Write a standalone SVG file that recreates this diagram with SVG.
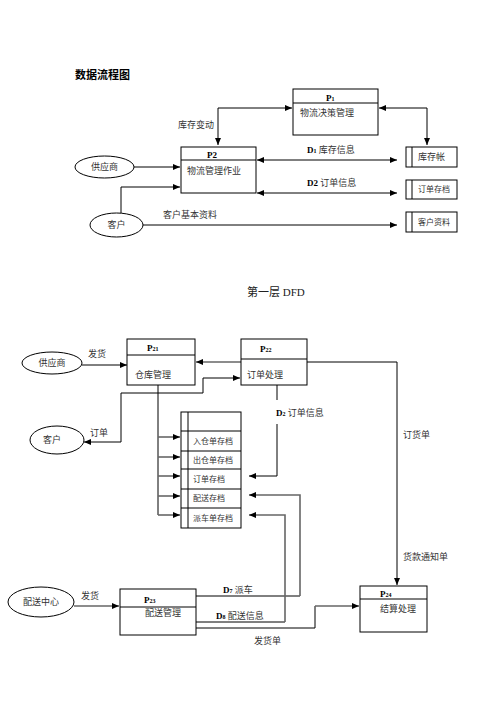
<svg xmlns="http://www.w3.org/2000/svg" width="496" height="702" viewBox="0 0 496 702">
<style>
.t{font-family:"Liberation Serif","Noto Sans CJK SC",serif;font-size:9px;fill:#333}
.b{font-family:"Liberation Serif","Noto Sans CJK SC",serif;font-size:9px;font-weight:bold;fill:#000}
.s{font-size:6px}
.box{fill:#fff;stroke:#000;stroke-width:1}
.ln{fill:none;stroke:#000;stroke-width:1}
.gl{fill:none;stroke:#666;stroke-width:1.6}
</style>
<defs>
<marker id="a" markerWidth="8" markerHeight="6" refX="7" refY="3" orient="auto" markerUnits="userSpaceOnUse"><path d="M0,0L7,3L0,6z" fill="#000"/></marker>
<marker id="as" markerWidth="8" markerHeight="6" refX="1" refY="3" orient="auto" markerUnits="userSpaceOnUse"><path d="M8,0L1,3L8,6z" fill="#000"/></marker>
</defs>
<rect width="496" height="702" fill="#fff"/>
<text x="75" y="79" style="font-family:'Noto Sans CJK SC',sans-serif;font-size:11px;font-weight:bold">数据流程图</text>
<text x="247" y="296" style="font-family:'Liberation Serif','Noto Sans CJK SC',serif;font-size:11px;fill:#222">第一层 DFD</text>

<g id="connectors">
<path class="ln" d="M218,145V108H292" marker-start="url(#as)" marker-end="url(#a)"/>
<path class="ln" d="M379,108H427V145" marker-start="url(#as)" marker-end="url(#a)"/>
<path class="ln" d="M257,160H397" marker-start="url(#as)" marker-end="url(#a)"/>
<path class="ln" d="M257,193H397" marker-start="url(#as)" marker-end="url(#a)"/>
<path class="ln" d="M143,225H397" marker-end="url(#a)"/>
<path class="ln" d="M134,167H180" marker-end="url(#a)"/>
<path class="ln" d="M121,213V187H180" marker-end="url(#a)"/>

<path class="ln" d="M82,365H127" stroke="#888" marker-end="url(#a)"/>
<path class="gl" d="M241,362H196" marker-end="url(#a)"/>
<path class="ln" d="M84,442H121V393H203V378H240" marker-start="url(#as)" marker-end="url(#a)"/>
<path class="ln" d="M158,385V515"/>
<path class="gl" d="M158,437H180" marker-end="url(#a)"/>
<path class="gl" d="M158,457H180" marker-end="url(#a)"/>
<path class="gl" d="M158,476H180" marker-end="url(#a)"/>
<path class="gl" d="M158,496H180" marker-end="url(#a)"/>
<path class="gl" d="M158,515H180" marker-end="url(#a)"/>
<path class="ln" d="M277,385V400M277,424V476H249" marker-end="url(#a)"/>
<path class="ln" d="M307,362H397V585" marker-end="url(#a)"/>
<path class="gl" d="M74,606H119" marker-end="url(#a)"/>
<path class="ln" d="M196,596H300"/>
<path class="gl" d="M300,596V495H249" marker-end="url(#a)"/>
<path class="ln" d="M196,622H285"/>
<path class="gl" d="M285,622V515H249" marker-end="url(#a)"/>
<path class="ln" d="M196,628H315V606"/>
<path class="gl" d="M315,606H359" marker-end="url(#a)"/>
</g>

<g id="labels">
<text class="t" x="178" y="128">库存变动</text>
<text class="t" x="307" y="153"><tspan class="b">D</tspan><tspan class="b s">1</tspan> 库存信息</text>
<text class="t" x="307" y="186"><tspan class="b">D2</tspan> 订单信息</text>
<text class="t" x="163" y="218">客户基本资料</text>
<text class="t" x="88" y="357">发货</text>
<text class="t" x="90" y="436">订单</text>
<text class="t" x="276" y="416"><tspan class="b">D</tspan><tspan class="b s">2</tspan> 订单信息</text>
<text class="t" x="403" y="438">订货单</text>
<text class="t" x="403" y="560">货款通知单</text>
<text class="t" x="81" y="599">发货</text>
<text class="t" x="223" y="593"><tspan class="b">D</tspan><tspan class="b s">7</tspan> 派车</text>
<text class="t" x="216" y="619"><tspan class="b">D</tspan><tspan class="b s">8</tspan> 配送信息</text>
<text class="t" x="254" y="644">发货单</text>
</g>

<g id="P1"><rect class="box" x="293" y="89" width="85" height="46"/><line class="ln" x1="293" y1="103" x2="378" y2="103"/><text class="b" x="326" y="101">P<tspan class="s">1</tspan></text><text class="t" x="300" y="116">物流决策管理</text></g>
<g id="P2"><rect class="box" x="181" y="147" width="75" height="46"/><line class="ln" x1="181" y1="160" x2="256" y2="160"/><text class="b" x="207" y="158">P2</text><text class="t" x="187" y="174">物流管理作业</text></g>
<g id="S1"><rect class="box" x="406" y="147" width="51" height="20"/><line class="ln" x1="412" y1="147" x2="412" y2="167"/><text class="t" x="418" y="160">库存帐</text></g>
<g id="S2"><rect class="box" x="406" y="180" width="51" height="19"/><line class="ln" x1="412" y1="180" x2="412" y2="199"/><text class="t" x="418" y="192" style="font-size:8px">订单存档</text></g>
<g id="S3"><rect class="box" x="406" y="212" width="51" height="20"/><line class="ln" x1="412" y1="212" x2="412" y2="232"/><text class="t" x="418" y="225" style="font-size:8px">客户资料</text></g>
<g id="supplier1"><ellipse class="box" cx="104.5" cy="167" rx="29.5" ry="11"/><text class="t" x="104.5" y="170" text-anchor="middle">供应商</text></g>
<g id="customer1"><ellipse class="box" cx="116.5" cy="225" rx="26.5" ry="12"/><text class="t" x="116.5" y="228" text-anchor="middle">客户</text></g>

<g id="supplier2"><ellipse class="box" cx="52" cy="363" rx="30" ry="11"/><text class="t" x="52" y="366" text-anchor="middle">供应商</text></g>
<g id="customer2"><ellipse class="box" cx="57" cy="440" rx="27" ry="14"/><text class="t" x="52" y="443" text-anchor="middle">客户</text></g>
<g id="P21"><rect class="box" x="127" y="339" width="68" height="46"/><line class="ln" x1="127" y1="355" x2="195" y2="355"/><text class="b" x="147" y="351">P<tspan class="s">21</tspan></text><text class="t" x="135" y="378">仓库管理</text></g>
<g id="P22"><rect class="box" x="241" y="339" width="66" height="46"/><line class="ln" x1="241" y1="359" x2="307" y2="359"/><text class="b" x="260" y="352">P<tspan class="s">22</tspan></text><text class="t" x="247" y="378">订单处理</text></g>
<g id="stores"><rect class="box" x="181" y="412" width="60" height="116"/><line class="ln" x1="188" y1="412" x2="188" y2="528"/>
<path class="ln" d="M181,431H241M181,451H241M181,469H241M181,489H241M181,508H241"/>
<text class="t" x="193" y="444" style="font-size:8px">入仓单存档</text>
<text class="t" x="193" y="463" style="font-size:8px">出仓单存档</text>
<text class="t" x="193" y="482" style="font-size:8px">订单存档</text>
<text class="t" x="193" y="501" style="font-size:8px">配送存档</text>
<text class="t" x="193" y="521" style="font-size:8px">派车单存档</text></g>
<g id="center"><ellipse class="box" cx="41" cy="602" rx="33" ry="15"/><text class="t" x="41" y="605" text-anchor="middle">配送中心</text></g>
<g id="P23"><rect class="box" x="120" y="589" width="76" height="46"/><line class="ln" x1="120" y1="607" x2="196" y2="607"/><text class="b" x="144" y="603">P<tspan class="s">23</tspan></text><text class="t" x="145" y="616">配送管理</text></g>
<g id="P24"><rect class="box" x="360" y="586" width="67" height="46"/><line class="ln" x1="360" y1="599" x2="427" y2="599"/><text class="b" x="380" y="597">P<tspan class="s">24</tspan></text><text class="t" x="380" y="612">结算处理</text></g>
</svg>
